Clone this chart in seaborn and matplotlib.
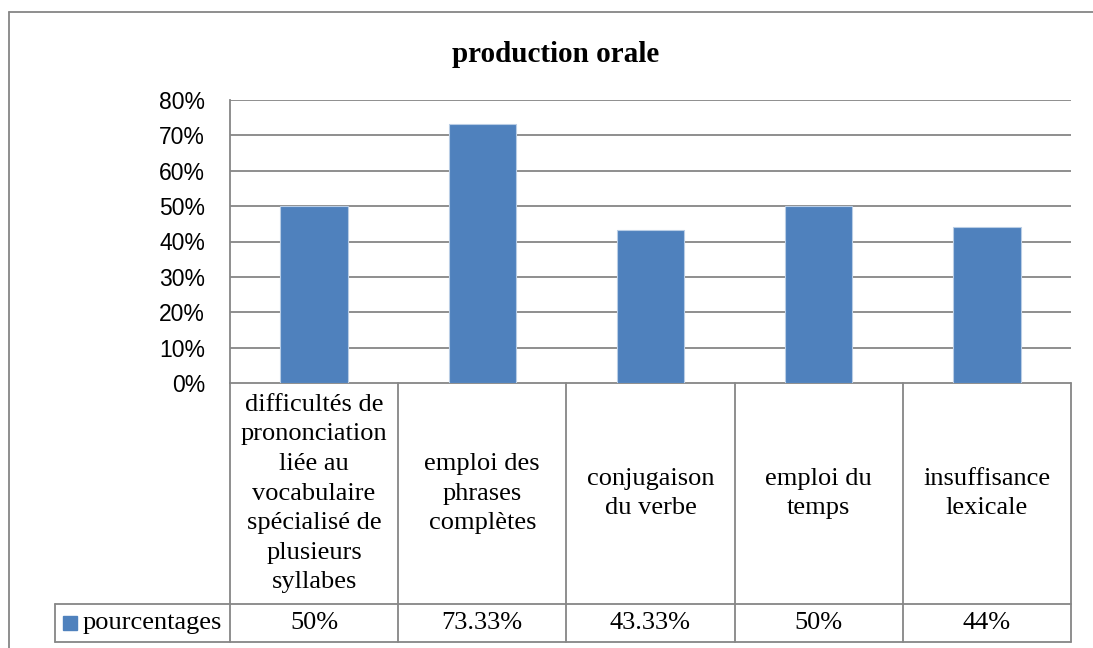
import matplotlib
matplotlib.use("Agg")
import matplotlib.pyplot as plt
from matplotlib.lines import Line2D
from matplotlib.patches import Rectangle
import seaborn as sns
import pandas as pd

# chart data
title = "production orale"
series_name = "pourcentages"
categories = [
    "difficultés de\nprononciation\nliée au\nvocabulaire\nspécialisé de\nplusieurs\nsyllabes",
    "emploi des\nphrases\ncomplètes",
    "conjugaison\ndu verbe",
    "emploi du\ntemps",
    "insuffisance\nlexicale",
]
values = [50, 73.33, 43.33, 50, 44]
y_ticks = [0, 10, 20, 30, 40, 50, 60, 70, 80]

BLUE = "#4F81BD"
GRID = "#868686"
SERIF = "Liberation Serif"

sns.set_theme(style="white")
plt.rcParams["font.family"] = ["Liberation Sans", "DejaVu Sans"]

df = pd.DataFrame({"cat": categories, "val": values})

fig = plt.figure(figsize=(10.93, 6.48), dpi=100)
W, H = 1093, 648
# plot area in pixels: x 230..1071, y 100..383
ax = fig.add_axes([230 / W, 1 - 383 / H, 841 / W, 283 / H])

sns.barplot(data=df, x="cat", y="val", color=BLUE, saturation=1, width=0.4,
            edgecolor="#B9CDE5", linewidth=0.8, ax=ax, zorder=3)

ax.set_ylim(0, 80)
ax.set_xlim(-0.5, len(categories) - 0.5)
ax.set_yticks(y_ticks)
ax.set_yticklabels([f"{t}%" for t in y_ticks], fontsize=16.5, color="black")
ax.tick_params(axis="y", length=0, pad=18)
ax.tick_params(axis="x", length=0, labelbottom=False)
ax.set_xlabel("")
ax.set_ylabel("")
for t in y_ticks[1:]:
    ax.axhline(t, color=GRID, lw=1.3, zorder=1)
for side in ["top", "right", "bottom"]:
    ax.spines[side].set_visible(False)
ax.spines["left"].set_color(GRID)
ax.spines["left"].set_linewidth(1.3)

# data table below the plot
tr = ax.get_xaxis_transform()
row1 = -0.781
row2 = -0.915
legend_left = -0.5 + (55 - 230) / 168.2
n = len(categories)
line_kw = dict(color=GRID, lw=1.3, transform=tr, clip_on=False)

ax.add_line(Line2D([-0.5, n - 0.5], [0, 0], **line_kw))
ax.add_line(Line2D([legend_left, n - 0.5], [row1, row1], **line_kw))
ax.add_line(Line2D([legend_left, n - 0.5], [row2, row2], **line_kw))
ax.add_line(Line2D([legend_left, legend_left], [row1, row2], **line_kw))
for i in range(n + 1):
    ax.add_line(Line2D([i - 0.5, i - 0.5], [0, row2], **line_kw))

for i, (c, v) in enumerate(zip(categories, values)):
    ax.text(i, row1 / 2, c, transform=tr, ha="center", va="center",
            fontsize=19, family=SERIF, linespacing=1.45, color="black")
    lab = f"{v:.2f}".rstrip("0").rstrip(".") + "%"
    ax.text(i, (row1 + row2) / 2, lab, transform=tr, ha="center", va="center",
            fontsize=19, family=SERIF, color="black")

# legend key inside table
fig.patches.append(Rectangle((63 / W, 1 - 630 / H), 14 / W, 14 / H,
                             transform=fig.transFigure, color=BLUE))
fig.text(83 / W, 1 - 623 / H, series_name, ha="left", va="center",
         fontsize=19, family=SERIF, color="black")

# title
fig.text(556 / W, 1 - 54 / H, title, ha="center", va="center",
         fontsize=21, family=SERIF, fontweight="bold", color="black")

# outer chart border
fig.add_artist(Line2D([9 / W, 9 / W], [0, 1 - 12 / H], color=GRID, lw=1.3,
                      transform=fig.transFigure))
fig.add_artist(Line2D([9 / W, 1], [1 - 12 / H, 1 - 12 / H], color=GRID, lw=1.3,
                      transform=fig.transFigure))

fig.savefig("out.png", dpi=100, facecolor="white")
plt.close(fig)
